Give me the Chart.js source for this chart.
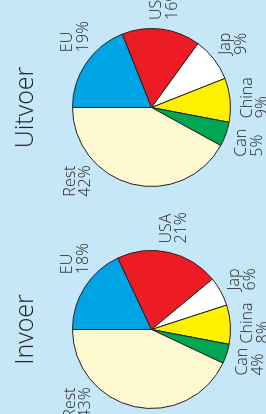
<!DOCTYPE html>
<html>
<head>
<meta charset="utf-8">
<script src="https://cdn.jsdelivr.net/npm/chart.js@4.4.0/dist/chart.umd.min.js"></script>
<style>
html,body{margin:0;padding:0;width:266px;height:414px;overflow:hidden;background:#C6E7F8;}
#stage{position:absolute;left:0;top:0;width:414px;height:266px;transform-origin:0 0;transform:translate(0px,414px) rotate(-90deg);}
.box{position:absolute;top:0;width:260px;height:266px;}
</style>
</head>
<body>
<div id="stage">
  <div class="box" style="left:-45px"><canvas id="invoer"></canvas></div>
  <div class="box" style="left:177px"><canvas id="uitvoer"></canvas></div>
</div>
<script>
// ---- data ----
const categories = ['EU', 'USA', 'Jap', 'China', 'Can', 'Rest'];
const invoerValues = [18, 21, 6, 8, 4, 43];
const uitvoerValues = [19, 16, 9, 9, 5, 42];
const invoerTitle = 'Invoer';
const uitvoerTitle = 'Uitvoer';
const sliceColors = ['#00A3E4', '#ED1C24', '#FFFFFF', '#FFF200', '#00A651', '#FFF9D1'];

// ---- styling / label placement ----
const FONT = '"Open Sans", "Liberation Sans", sans-serif';
const TEXT_COLOR = '#231F20';
const LABEL_DIST = 104;              // distance of label block centre from pie centre
const FIXED_LABEL_ANGLES = { EU: 43, Rest: 315 }; // degrees clockwise from top

const labelPlugin = {
  id: 'pieLabels',
  afterDatasetsDraw(chart) {
    const ctx = chart.ctx;
    const meta = chart.getDatasetMeta(0);
    const data = chart.data.datasets[0].data;
    const labels = chart.data.labels;
    ctx.save();
    ctx.fillStyle = TEXT_COLOR;
    // title
    const first = meta.data[0];
    ctx.font = '300 25px ' + FONT;
    ctx.textAlign = 'center';
    ctx.textBaseline = 'alphabetic';
    ctx.fillText(chart.options.plugins.pieLabels.title, first.x, 33);
    // slice labels
    ctx.font = '300 16px ' + FONT;
    ctx.textAlign = 'left';
    ctx.textBaseline = 'middle';
    const lh = 15.5;
    meta.data.forEach((arc, i) => {
      const p = arc.getProps(['x', 'y', 'startAngle', 'endAngle'], true);
      let a = (p.startAngle + p.endAngle) / 2;
      if (FIXED_LABEL_ANGLES[labels[i]] !== undefined) {
        a = FIXED_LABEL_ANGLES[labels[i]] * Math.PI / 180 - Math.PI / 2;
      }
      const cx = p.x + LABEL_DIST * Math.cos(a);
      const cy = p.y + LABEL_DIST * Math.sin(a);
      const lines = [labels[i], data[i] + '%'];
      const w = Math.max(...lines.map(t => ctx.measureText(t).width));
      const left = cx - w / 2;
      ctx.fillText(lines[0], left, cy - lh / 2);
      ctx.fillText(lines[1], left, cy + lh / 2);
    });
    ctx.restore();
  }
};

function makePie(id, values, title) {
  return new Chart(document.getElementById(id), {
    type: 'pie',
    data: {
      labels: categories,
      datasets: [{
        data: values,
        backgroundColor: sliceColors,
        borderColor: '#231F20',
        borderWidth: 1
      }]
    },
    options: {
      responsive: true,
      maintainAspectRatio: false,
      animation: false,
      layout: { padding: { top: 72, bottom: 35, left: 50, right: 51 } },
      plugins: {
        legend: { display: false },
        tooltip: { enabled: false },
        pieLabels: { title: title }
      }
    },
    plugins: [labelPlugin]
  });
}

makePie('invoer', invoerValues, invoerTitle);
makePie('uitvoer', uitvoerValues, uitvoerTitle);
</script>
</body>
</html>
